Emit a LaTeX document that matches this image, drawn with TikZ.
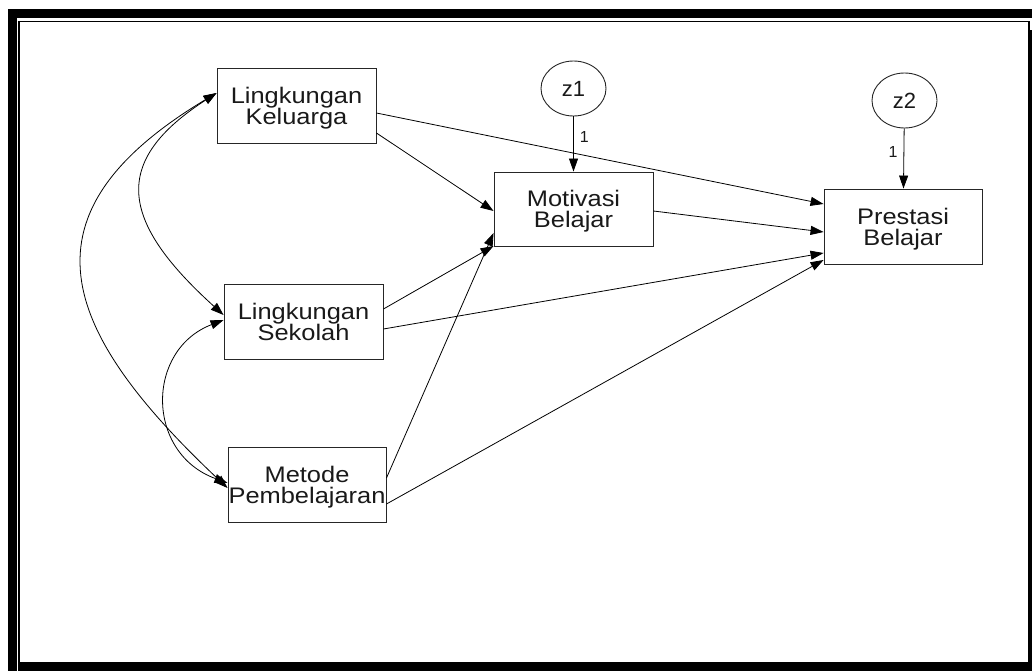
\documentclass[tikz,border=0pt]{standalone}
\usepackage{fontspec}
\setmainfont{Liberation Sans}
\newfontfamily\boxfont{Liberation Sans}[FakeStretch=1.13]
\usetikzlibrary{arrows.meta,shapes.geometric}
\begin{document}
\begin{tikzpicture}[x=1pt,y=-1pt,
  var/.style={draw=black!85, line width=0.9pt, rectangle, minimum width=159pt, minimum height=75pt, inner sep=0pt, align=center, text depth=-3pt, text=black!90, font=\boxfont\fontsize{22.5}{21}\selectfont},
  err/.style={draw=black!85, line width=0.9pt, ellipse, minimum width=65pt, minimum height=55pt, inner sep=0pt, text depth=-4pt, text=black!90, font=\fontsize{22}{22}\selectfont},
  arr/.style={line width=0.8pt, -{Triangle[length=13pt,width=9pt]}},
  cov/.style={line width=0.8pt, {Triangle[length=13pt,width=9pt]}-{Triangle[length=13pt,width=9pt]}},
  lbl/.style={font=\fontsize{16}{16}\selectfont, inner sep=0pt, text=black!90}
]
\useasboundingbox (0,0) rectangle (1032,671);
% frame
\fill (8,9) rectangle (17,671);
\fill (8,9) rectangle (1032,18);
\draw[line width=1.6pt] (19.2,21.5) rectangle (1028.8,663);
\fill (18,663) rectangle (1032,671);
\fill (1029.6,30) rectangle (1032,671);

% nodes
\node[var] (LK) at (296.5,106) {Lingkungan\\Keluarga};
\node[var] (LS) at (303.5,321.5) {Lingkungan\\Sekolah};
\node[var, minimum width=158pt] (MP) at (307,484.5) {Metode\\Pembelajaran};
\node[var, minimum height=74pt] (MB) at (573.5,209) {Motivasi\\Belajar};
\node[var, minimum width=158pt] (PB) at (903,226.5) {Prestasi\\Belajar};
\node[err] (z1) at (573.5,88.5) {z1};
\node[err] (z2) at (904.5,100.5) {z2};

% error paths
\draw[arr] (z1) -- node[lbl, pos=0.38, right=6pt] {1} (MB);
\draw[arr] (z2) -- node[lbl, pos=0.4, left=6pt] {1} (PB);

% directed paths
\draw[arr] ([yshift=-7pt]LK.east) -- ([yshift=22.5pt]PB.west);
\draw[arr] ([yshift=-27pt]LK.east) -- ([yshift=-2pt]MB.west);
\draw[arr] ([yshift=-2pt]MB.east) -- ([yshift=-5.5pt]PB.west);
\draw[arr] ([yshift=12.5pt]LS.east) -- ([yshift=-37pt]MB.west);
\draw[arr] ([yshift=-7.5pt]LS.east) -- ([yshift=-26.5pt]PB.west);
\draw[arr] ([yshift=6.5pt]MP.east) -- ([yshift=-24pt]MB.west);
\draw[arr] ([yshift=-19.5pt]MP.east) -- ([yshift=-33.5pt]PB.west);

% covariances
\draw[cov] ([yshift=13pt]LK.west) .. controls +(-105,68) and +(-105,-95) .. ([yshift=6.5pt]LS.west);
\draw[cov] ([yshift=13pt]LK.west) .. controls +(-200,120) and +(-170,-160) .. ([yshift=-3.5pt]MP.west);
\draw[cov] ([yshift=1.5pt]LS.west) .. controls +(-78,30) and +(-82,-30) .. ([yshift=1.5pt]MP.west);
\end{tikzpicture}
\end{document}
